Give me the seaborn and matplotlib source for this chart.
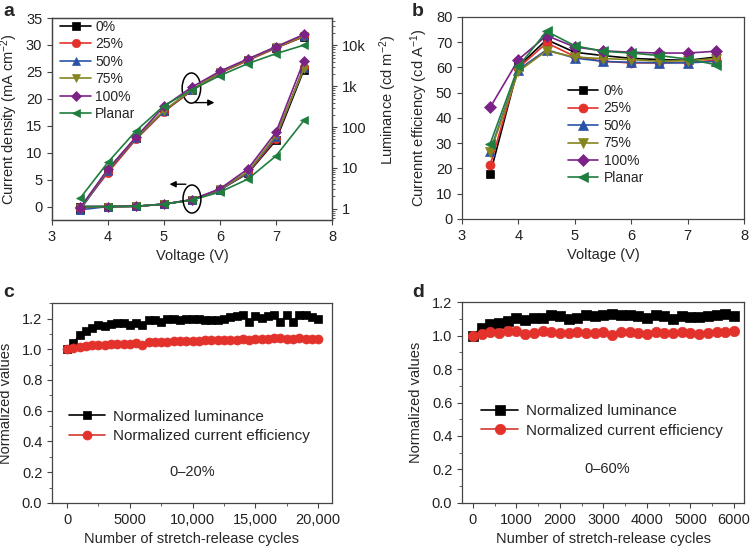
import numpy as np
import matplotlib
matplotlib.use("Agg")
import matplotlib.pyplot as plt
from matplotlib.patches import Ellipse
from matplotlib.ticker import MultipleLocator, FixedLocator, LogLocator, NullFormatter, FuncFormatter
import seaborn as sns

# ---------------- data ----------------
voltage = [3.5, 4.0, 4.5, 5.0, 5.5, 6.0, 6.5, 7.0, 7.5]
labels_a = ["0%", "25%", "50%", "75%", "100%", "Planar"]

J_0 = [0.0, 0.0, 0.05, 0.45, 1.25, 3.1, 6.2, 12.3, 25.4]
J_25 = [-0.1, 0.0, 0.05, 0.45, 1.25, 3.1, 6.3, 12.6, 26.0]
J_50 = [-0.6, 0.0, 0.05, 0.45, 1.25, 3.1, 6.4, 12.9, 25.8]
J_75 = [-0.2, 0.0, 0.05, 0.45, 1.25, 3.2, 6.5, 13.2, 25.6]
J_100 = [0.0, 0.0, 0.05, 0.45, 1.3, 3.3, 7.0, 13.8, 27.1]
J_planar = [0.0, 0.0, 0.05, 0.45, 1.2, 2.7, 5.1, 9.4, 16.0]

L_0 = [1.0, 9.0, 55, 245, 800, 2150, 4400, 8800, 16500]
L_25 = [1.0, 7.7, 50, 240, 790, 2100, 4300, 8600, 16800]
L_50 = [0.93, 8.5, 53, 250, 820, 2200, 4500, 9000, 17500]
L_75 = [1.0, 9.0, 55, 255, 830, 2200, 4500, 9000, 17000]
L_100 = [1.05, 9.4, 57, 320, 960, 2340, 4700, 9300, 18600]
L_planar = [1.8, 13.8, 81, 334, 826, 1830, 3600, 6300, 10200]

CE_0 = [17.9, 60.4, 71.0, 66.0, 64.7, 63.6, 63.1, 62.8, 64.1]
CE_25 = [21.3, 59.8, 69.7, 64.4, 62.4, 61.8, 61.8, 62.0, 62.8]
CE_50 = [27.0, 59.1, 67.0, 63.7, 62.4, 62.0, 61.8, 61.8, 62.4]
CE_75 = [26.4, 58.4, 66.6, 64.1, 63.5, 63.1, 62.4, 62.7, 63.5]
CE_100 = [44.2, 63.1, 72.6, 68.1, 66.6, 66.0, 65.7, 65.7, 66.4]
CE_planar = [29.8, 60.4, 74.3, 68.6, 66.4, 65.7, 64.7, 63.3, 61.1]

cycles_c = list(range(0, 20001, 500))
lum_c = [1.0, 1.04, 1.09, 1.12, 1.14, 1.16, 1.15, 1.165, 1.17, 1.17, 1.16,
         1.17, 1.16, 1.19, 1.19, 1.18, 1.20, 1.195, 1.19, 1.20, 1.195,
         1.20, 1.19, 1.19, 1.19, 1.195, 1.21, 1.215, 1.225, 1.18, 1.215,
         1.205, 1.215, 1.225, 1.18, 1.225, 1.18, 1.225, 1.22, 1.21, 1.195]
ce_c = [1.0, 1.005, 1.015, 1.02, 1.025, 1.027, 1.03, 1.032, 1.035, 1.037, 1.037,
        1.04, 1.027, 1.05, 1.048, 1.05, 1.05, 1.053, 1.053, 1.055, 1.055,
        1.055, 1.058, 1.058, 1.062, 1.062, 1.062, 1.062, 1.064, 1.062, 1.064,
        1.064, 1.066, 1.07, 1.07, 1.068, 1.066, 1.075, 1.068, 1.064, 1.068]

cycles_d = list(range(0, 6001, 200))
lum_d = [1.0, 1.047, 1.067, 1.075, 1.085, 1.107, 1.091, 1.105, 1.107, 1.125, 1.115,
         1.10, 1.105, 1.12, 1.115, 1.12, 1.13, 1.125, 1.125, 1.119, 1.107,
         1.12, 1.115, 1.10, 1.115, 1.11, 1.11, 1.115, 1.125, 1.13, 1.115]
ce_d = [1.0, 1.01, 1.02, 1.016, 1.027, 1.027, 1.01, 1.015, 1.027, 1.02, 1.015,
        1.016, 1.02, 1.016, 1.015, 1.022, 1.006, 1.02, 1.02, 1.016, 1.01,
        1.02, 1.016, 1.015, 1.02, 1.016, 1.01, 1.015, 1.024, 1.02, 1.027]

# ---------------- style ----------------
sns.set_style("ticks")
plt.rcParams["font.family"] = ["Liberation Sans", "DejaVu Sans"]
plt.rcParams["mathtext.fontset"] = "custom"
plt.rcParams["mathtext.rm"] = "Liberation Sans"
plt.rcParams["mathtext.it"] = "Liberation Sans:italic"
plt.rcParams["font.size"] = 10
plt.rcParams["axes.edgecolor"] = "#444444"
plt.rcParams["axes.linewidth"] = 0.9
plt.rcParams["xtick.color"] = "#444444"
plt.rcParams["ytick.color"] = "#444444"
plt.rcParams["xtick.labelcolor"] = "#222222"
plt.rcParams["ytick.labelcolor"] = "#222222"

colors = ["#000000", "#e3312b", "#2a53a6", "#858520", "#7b2287", "#1f7d3e"]
markers = ["s", "o", "^", "v", "D", "<"]
msizes = [5.5, 6, 6, 6, 5.5, 6]

fig = plt.figure(figsize=(7.5, 5.46), dpi=100)
axa = fig.add_axes([0.0693, 0.597, 0.3733, 0.370])
axb = fig.add_axes([0.616, 0.599, 0.376, 0.370])
axc = fig.add_axes([0.0693, 0.0788, 0.3733, 0.366])
axd = fig.add_axes([0.616, 0.0788, 0.376, 0.368])


def style_ticks(ax):
    ax.tick_params(which="major", direction="out", length=3.5, width=0.8, labelsize=10.5)
    ax.tick_params(which="minor", direction="out", length=2, width=0.6)
    for s in ax.spines.values():
        s.set_visible(True)


# ---------------- panel a ----------------
J_all = [J_0, J_25, J_50, J_75, J_100, J_planar]
L_all = [L_0, L_25, L_50, L_75, L_100, L_planar]
axa2 = axa.twinx()
for J, L, c, m, ms, lab in zip(J_all, L_all, colors, markers, msizes, labels_a):
    sns.lineplot(x=voltage, y=J, ax=axa, color=c, marker=m, markersize=ms,
                 markeredgecolor=c, markeredgewidth=0.5, linewidth=1.2, label=lab)
    sns.lineplot(x=voltage, y=L, ax=axa2, color=c, marker=m, markersize=ms,
                 markeredgecolor=c, markeredgewidth=0.5, linewidth=1.2, legend=False)
axa.set_xlim(3, 8)
axa.set_ylim(-2.5, 35)
axa.yaxis.set_major_locator(MultipleLocator(5))
axa.xaxis.set_major_locator(MultipleLocator(1))
axa.set_xlabel("Voltage (V)", fontsize=10.5)
axa.set_ylabel("Current density (mA cm$^{-2}$)", fontsize=10.5, labelpad=4)
axa2.set_yscale("log")
axa2.set_ylim(0.53, 4.7e4)
axa2.yaxis.set_major_locator(FixedLocator([1, 10, 100, 1000, 10000]))
axa2.yaxis.set_major_formatter(FuncFormatter(lambda v, p: {1: "1", 10: "10", 100: "100", 1000: "1k", 10000: "10k"}.get(int(round(v)), "")))
axa2.yaxis.set_minor_locator(LogLocator(base=10, subs=np.arange(2, 10)))
axa2.yaxis.set_minor_formatter(NullFormatter())
axa2.set_ylabel("")
style_ticks(axa)
style_ticks(axa2)
axa.legend(loc="upper left", bbox_to_anchor=(-0.005, 1.04), frameon=False, fontsize=10,
           handlelength=2.2, handletextpad=0.3, labelspacing=0.25, borderaxespad=0.3)

# ellipses and arrows
axa.add_patch(Ellipse((5.49, 22.0), 0.33, 5.6, fill=False, ec="black", lw=1.1, zorder=5))
axa.add_patch(Ellipse((5.5, 1.4), 0.32, 5.2, fill=False, ec="black", lw=1.1, zorder=5))
axa.annotate("", xy=(5.95, 19.3), xytext=(5.5, 19.3),
             arrowprops=dict(arrowstyle="-|>", color="black", lw=1.0, mutation_scale=9))
axa.annotate("", xy=(5.05, 4.15), xytext=(5.44, 4.15),
             arrowprops=dict(arrowstyle="-|>", color="black", lw=1.0, mutation_scale=9))
fig.text(388 / 750, 1 - 100 / 546, "Luminance (cd m$^{-2}$)", rotation=90,
         ha="center", va="center", fontsize=10.5)

# ---------------- panel b ----------------
CE_all = [CE_0, CE_25, CE_50, CE_75, CE_100, CE_planar]
for CE, c, m, ms, lab in zip(CE_all, colors, markers, msizes, labels_a):
    sns.lineplot(x=voltage, y=CE, ax=axb, color=c, marker=m, markersize=ms + 0.5,
                 markeredgecolor=c, markeredgewidth=0.5, linewidth=1.2, label=lab)
axb.set_xlim(3, 8)
axb.set_ylim(0, 80)
axb.yaxis.set_major_locator(MultipleLocator(10))
axb.xaxis.set_major_locator(MultipleLocator(1))
axb.set_xlabel("Voltage (V)", fontsize=10.5)
axb.set_ylabel("Currennt efficiency (cd A$^{-1}$)", fontsize=10.5, labelpad=4)
style_ticks(axb)
axb.legend(loc="upper left", bbox_to_anchor=(0.33, 0.73), frameon=False, fontsize=10,
           handlelength=2.2, handletextpad=0.4, labelspacing=0.25)

# ---------------- panel c ----------------
sns.lineplot(x=cycles_c, y=lum_c, ax=axc, color="black", marker="s", markersize=6,
             markeredgecolor="black", markeredgewidth=0.5, linewidth=1.2,
             label="Normalized luminance")
sns.lineplot(x=cycles_c, y=ce_c, ax=axc, color="#d23a30", marker="o", markersize=6.5,
             markerfacecolor="#e3312b", markeredgecolor="#e3312b", markeredgewidth=0.5,
             linewidth=1.2, label="Normalized current efficiency")
axc.set_xlim(-1200, 21100)
axc.set_ylim(0, 1.3)
axc.xaxis.set_major_locator(FixedLocator([0, 5000, 10000, 15000, 20000]))
axc.xaxis.set_major_formatter(FuncFormatter(lambda v, p: "0" if v == 0 else ("5000" if v == 5000 else f"{int(v):,}")))
axc.xaxis.set_minor_locator(MultipleLocator(2500))
axc.yaxis.set_major_locator(FixedLocator([0, 0.2, 0.4, 0.6, 0.8, 1.0, 1.2]))
axc.yaxis.set_major_formatter(FuncFormatter(lambda v, p: f"{v:.1f}"))
axc.yaxis.set_minor_locator(MultipleLocator(0.1))
axc.set_xlabel("Number of stretch-release cycles", fontsize=10.5)
axc.set_ylabel("Normalized values", fontsize=10.5, labelpad=6)
style_ticks(axc)
axc.legend(loc="upper left", bbox_to_anchor=(0.01, 0.535), frameon=False, fontsize=11,
           handlelength=2.4, handletextpad=0.5, labelspacing=0.35)
axc.text(10000, 0.2, "0\u201320%", ha="center", va="center", fontsize=10.5)

# ---------------- panel d ----------------
sns.lineplot(x=cycles_d, y=lum_d, ax=axd, color="black", marker="s", markersize=6.5,
             markeredgecolor="black", markeredgewidth=0.5, linewidth=1.2,
             label="Normalized luminance")
sns.lineplot(x=cycles_d, y=ce_d, ax=axd, color="#d23a30", marker="o", markersize=7.5,
             markerfacecolor="#e3312b", markeredgecolor="#e3312b", markeredgewidth=0.5,
             linewidth=1.2, label="Normalized current efficiency")
axd.set_xlim(-250, 6230)
axd.set_ylim(0, 1.2)
axd.xaxis.set_major_locator(MultipleLocator(1000))
axd.xaxis.set_minor_locator(MultipleLocator(500))
axd.yaxis.set_major_locator(MultipleLocator(0.2))
axd.yaxis.set_major_formatter(FuncFormatter(lambda v, p: f"{v:.1f}"))
axd.yaxis.set_minor_locator(MultipleLocator(0.1))
axd.set_xlabel("Number of stretch-release cycles", fontsize=10.5)
axd.set_ylabel("Normalized values", fontsize=10.5, labelpad=6)
style_ticks(axd)
axd.legend(loc="upper left", bbox_to_anchor=(0.02, 0.56), frameon=False, fontsize=11,
           handlelength=2.4, handletextpad=0.5, labelspacing=0.35)
axd.text(3080, 0.2, "0\u201360%", ha="center", va="center", fontsize=10.5)

# panel letters
for txt, x, y in [("a", 3, 3), ("b", 412, 3), ("c", 3, 284), ("d", 412, 284)]:
    fig.text(x / 750, 1 - y / 546, txt, fontsize=14, fontweight="bold", ha="left", va="top")

fig.savefig("out.png", dpi=100)
